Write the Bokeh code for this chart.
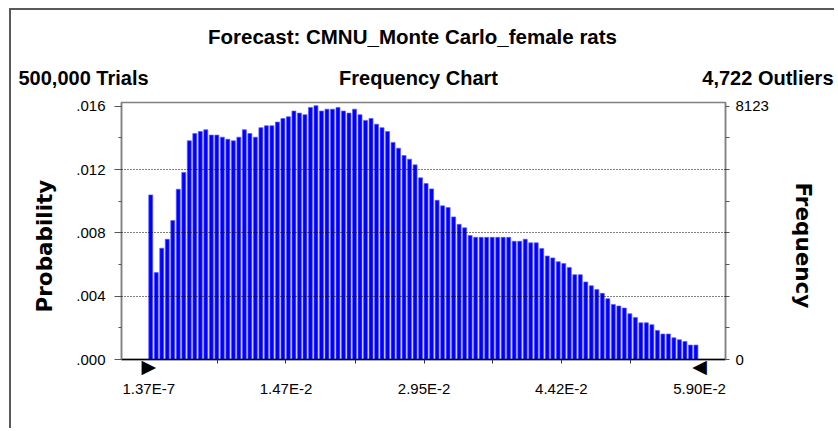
from bokeh.plotting import figure
from bokeh.models import LinearAxis, FixedTicker, Range1d, ColumnDataSource, Title
from bokeh.core.properties import value
from bokeh.embed import file_html
from bokeh.resources import INLINE

# ---------------- data ----------------
title_text = "Forecast: CMNU_Monte Carlo_female rats"
trials_text = "500,000 Trials"
chart_text = "Frequency Chart"
outliers_text = "4,722 Outliers"
y_title = "Probability"
y2_title = "Frequency"

x_min = 1.37e-7
x_max = 5.90e-2

probabilities = [
    0.01040, 0.00549, 0.00703, 0.00760, 0.00878, 0.01076, 0.01182, 0.01382, 0.01428, 0.01441,
    0.01452, 0.01418, 0.01418, 0.01405, 0.01392, 0.01382, 0.01405, 0.01452, 0.01428, 0.01405,
    0.01465, 0.01477, 0.01477, 0.01500, 0.01523, 0.01534, 0.01570, 0.01557, 0.01547, 0.01593,
    0.01604, 0.01570, 0.01582, 0.01582, 0.01593, 0.01570, 0.01557, 0.01582, 0.01547, 0.01511,
    0.01523, 0.01487, 0.01465, 0.01441, 0.01372, 0.01335, 0.01289, 0.01266, 0.01230, 0.01148,
    0.01112, 0.01078, 0.01006, 0.00971, 0.00960, 0.00901, 0.00854, 0.00832, 0.00783, 0.00772,
    0.00772, 0.00772, 0.00772, 0.00772, 0.00772, 0.00772, 0.00747, 0.00747, 0.00760, 0.00737,
    0.00737, 0.00701, 0.00654, 0.00642, 0.00618, 0.00606, 0.00582, 0.00536, 0.00536, 0.00490,
    0.00466, 0.00443, 0.00418, 0.00384, 0.00348, 0.00338, 0.00325, 0.00289, 0.00266, 0.00232,
    0.00232, 0.00220, 0.00184, 0.00161, 0.00161, 0.00137, 0.00125, 0.00114, 0.00091, 0.00091,
]

y_tick_vals = [0.0, 0.004, 0.008, 0.012, 0.016]
y_tick_labels = [".000", ".004", ".008", ".012", ".016"]
y_minor_vals = [0.002, 0.006, 0.010, 0.014]
grid_vals = [0.004, 0.008, 0.012]
freq_tick_vals = [0.0, 0.016]
freq_tick_labels = ["0", "8123"]
x_tick_vals = [1.37e-7, 1.47e-2, 2.95e-2, 4.42e-2, 5.90e-2]
x_tick_labels = ["1.37E-7", "1.47E-2", "2.95E-2", "4.42E-2", "5.90E-2"]
grabber_vals = [x_min, x_max]
grabber_labels = ["\u25B6", "\u25C0"]

# ---------------- derived ----------------
n = len(probabilities)
bin_w = (x_max - x_min) / n
lefts = [x_min + i * bin_w for i in range(n)]
rights = [l + 0.72 * bin_w for l in lefts]
x_minor = [(a + b) / 2 for a, b in zip(x_tick_vals[:-1], x_tick_vals[1:])]

W = 825
HEAD_H = 82
MAIN_H = 338
BORDER = "2px solid #5a5a5a"

# ---------------- header (texts) ----------------
head = figure(width=W, height=HEAD_H, output_backend="svg", toolbar_location=None,
              x_range=Range1d(0, W), y_range=Range1d(HEAD_H, 0),
              min_border=0, x_axis_location=None, y_axis_location=None)
head.title = None
head.outline_line_color = None
head.xgrid.visible = False
head.ygrid.visible = False
head.styles = {"border-top": BORDER, "border-left": BORDER,
               "margin-left": "9px", "margin-top": "8px"}
head_font = value("Liberation Sans")
common = dict(text_font=head_font, text_font_style="bold",
              text_baseline="middle", text_color="black")
head.text(x=[401], y=[26], text=[title_text], text_align="center", text_font_size="20.5px", **common)
head.text(x=[7], y=[67], text=[trials_text], text_align="left", text_font_size="20px", **common)
head.text(x=[407], y=[67], text=[chart_text], text_align="center", text_font_size="20px", **common)
head.text(x=[822], y=[67], text=[outliers_text], text_align="right", text_font_size="20px", **common)

# ---------------- main chart ----------------
p = figure(width=W, height=MAIN_H, output_backend="svg", toolbar_location=None,
           x_range=Range1d(-0.00292, 0.06179), y_range=Range1d(0, 0.01624),
           min_border_left=110, min_border_right=106, min_border_top=12, min_border_bottom=69,
           x_axis_location=None, y_axis_location=None)
p.title = None
p.styles = {"border-left": BORDER, "margin-left": "9px"}
p.background_fill_color = "white"
p.border_fill_color = "white"
p.outline_line_color = "#808080"
p.outline_line_width = 1.5

src = ColumnDataSource(dict(left=lefts, right=rights, top=probabilities, bottom=[0] * n))
p.quad(left="left", right="right", top="top", bottom="bottom", source=src,
       fill_color="#0000ff", line_color="#5a5aff", line_width=0.7)

p.xgrid.visible = False
p.ygrid.ticker = FixedTicker(ticks=grid_vals)
p.ygrid.grid_line_color = "black"
p.ygrid.grid_line_dash = "1 2"
p.ygrid.grid_line_width = 1
p.ygrid.level = "overlay"

tick_font = "Liberation Sans"
axis_title_font = "DejaVu Sans"

# left axis
yl = LinearAxis(ticker=FixedTicker(ticks=y_tick_vals, minor_ticks=y_minor_vals))
yl.major_label_overrides = {v: s for v, s in zip(y_tick_vals, y_tick_labels)}
yl.axis_line_color = "#808080"
yl.axis_line_width = 1.5
yl.major_tick_line_color = "#555555"
yl.minor_tick_line_color = "#555555"
yl.major_tick_out, yl.major_tick_in = 7, 0
yl.minor_tick_out, yl.minor_tick_in = 3, 0
yl.major_label_standoff = 9
yl.major_label_text_font = tick_font
yl.major_label_text_font_size = "15px"
yl.major_label_text_color = "black"
p.add_layout(yl, "left")

# right axis
yr = LinearAxis(ticker=FixedTicker(ticks=freq_tick_vals, minor_ticks=y_minor_vals + grid_vals))
yr.major_label_overrides = {v: s for v, s in zip(freq_tick_vals, freq_tick_labels)}
yr.axis_line_color = "#808080"
yr.axis_line_width = 1.5
yr.major_tick_line_color = "#555555"
yr.minor_tick_line_color = "#555555"
yr.major_tick_out, yr.major_tick_in = 4, 0
yr.minor_tick_out, yr.minor_tick_in = 4, 0
yr.major_label_standoff = 6
yr.major_label_text_font = tick_font
yr.major_label_text_font_size = "15px"
yr.major_label_text_color = "black"
p.add_layout(yr, "right")

# rotated axis titles, placed a little below the frame centre as in the reference
p.add_layout(Title(text=y_title, align="left", offset=47, standoff=33,
                   text_font=axis_title_font, text_font_style="bold",
                   text_font_size="21.5px", text_color="black"), "left")
p.add_layout(Title(text=y2_title, align="left", offset=80, standoff=38,
                   text_font=axis_title_font, text_font_style="bold",
                   text_font_size="21.5px", text_color="black"), "right")

# bottom axis 1: axis line, tick marks and the two certainty-grabber triangles
xb1 = LinearAxis(ticker=FixedTicker(ticks=grabber_vals, minor_ticks=x_minor + x_tick_vals[1:-1]))
xb1.major_label_overrides = {v: s for v, s in zip(grabber_vals, grabber_labels)}
xb1.axis_line_color = "black"
xb1.axis_line_width = 1.5
xb1.major_tick_line_color = None
xb1.minor_tick_line_color = "#333333"
xb1.major_tick_out, xb1.major_tick_in = 4, 0
xb1.minor_tick_out, xb1.minor_tick_in = 4, 0
xb1.major_label_standoff = -9
xb1.major_label_text_font = "DejaVu Sans"
xb1.major_label_text_font_size = "19px"
xb1.major_label_text_color = "black"
p.add_layout(xb1, "below")

# bottom axis 2: value labels
xb2 = LinearAxis(ticker=FixedTicker(ticks=x_tick_vals, minor_ticks=[]))
xb2.major_label_overrides = {v: s for v, s in zip(x_tick_vals, x_tick_labels)}
xb2.axis_line_color = None
xb2.major_tick_line_color = None
xb2.minor_tick_line_color = None
xb2.major_tick_out, xb2.major_tick_in = 0, 0
xb2.minor_tick_out, xb2.minor_tick_in = 0, 0
xb2.major_label_standoff = 0
xb2.major_label_text_font = tick_font
xb2.major_label_text_font_size = "15px"
xb2.major_label_text_color = "black"
p.add_layout(xb2, "below")

open("out.html", "w").write(file_html([head, p], INLINE))
